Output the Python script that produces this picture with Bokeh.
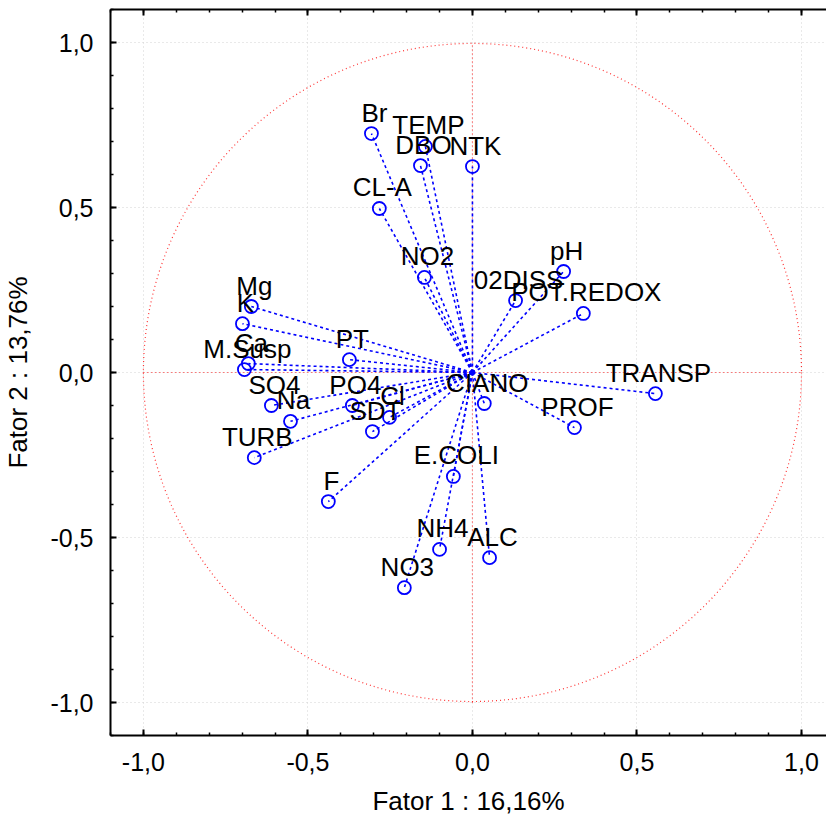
from bokeh.plotting import figure
from bokeh.models import ColumnDataSource, Range1d, LinearAxis, FixedTicker
from bokeh.core.properties import value
from bokeh.embed import file_html
from bokeh.resources import INLINE

# Factor loadings of each variable on the first two factors
variables = ["Br", "TEMP", "DBO", "NTK", "CL-A", "NO2", "pH", "02DISS", "POT.REDOX",
             "Mg", "K", "PT", "Ca", "M.Susp", "SO4", "Na", "PO4", "Cl", "SDT",
             "CIANO", "TRANSP", "PROF", "TURB", "E.COLI", "F", "NH4", "ALC", "NO3"]
fator1 = [-0.307, -0.143, -0.158, 0.000, -0.283, -0.146, 0.277, 0.131, 0.337,
          -0.672, -0.699, -0.374, -0.681, -0.693, -0.611, -0.553, -0.365, -0.252, -0.304,
          0.036, 0.556, 0.310, -0.663, -0.058, -0.438, -0.100, 0.052, -0.207]
fator2 = [0.724, 0.685, 0.627, 0.624, 0.497, 0.288, 0.306, 0.218, 0.179,
          0.200, 0.148, 0.039, 0.027, 0.009, -0.100, -0.148, -0.100, -0.136, -0.179,
          -0.094, -0.064, -0.167, -0.258, -0.315, -0.391, -0.536, -0.561, -0.652]

tick_values = [-1.0, -0.5, 0.0, 0.5, 1.0]
tick_labels = ["-1,0", "-0,5", "0,0", "0,5", "1,0"]
minor_values = [round(-1.1 + 0.1 * i, 1) for i in range(23)]
circle_radius = 1.0

FONT = "Liberation Sans"

src = ColumnDataSource(dict(var=variables, x=fator1, y=fator2,
                            x0=[0.0] * len(variables), y0=[0.0] * len(variables)))

p = figure(width=826, height=822, output_backend="svg", toolbar_location=None,
           x_range=Range1d(-1.1, 1.076), y_range=Range1d(-1.1, 1.1),
           min_border_left=110, min_border_right=0, min_border_top=9, min_border_bottom=87,
           x_axis_label="Fator 1 : 16,16%", y_axis_label="Fator 2 : 13,76%")
p.outline_line_color = None
p.background_fill_color = "white"
p.border_fill_color = "white"

ticker = FixedTicker(ticks=tick_values, minor_ticks=minor_values)
overrides = {v: l for v, l in zip(tick_values, tick_labels)}

for ax in (p.xaxis[0], p.yaxis[0]):
    ax.ticker = ticker
    ax.major_label_overrides = overrides
    ax.major_label_text_font = FONT
    ax.major_label_text_font_size = "25px"
    ax.major_label_text_color = "black"
    ax.axis_label_text_font = FONT
    ax.axis_label_text_font_size = "26px"
    ax.axis_label_text_font_style = "normal"
    ax.axis_label_text_color = "black"
    ax.axis_line_width = 2
    ax.axis_line_color = "black"
    ax.major_tick_in = 6
    ax.major_tick_out = 0
    ax.minor_tick_in = 3
    ax.minor_tick_out = 0
    ax.major_tick_line_width = 2
    ax.minor_tick_line_width = 1.5

p.xaxis[0].major_label_standoff = 17
p.xaxis[0].axis_label_standoff = 12
p.yaxis[0].major_label_standoff = 17
p.yaxis[0].axis_label_standoff = 14

# Frame edge along the top with mirrored inward ticks (no labels)
top = LinearAxis(ticker=ticker, major_label_overrides={v: "" for v in tick_values},
                 major_label_standoff=0,
                 axis_line_width=2, major_tick_in=6, major_tick_out=0,
                 minor_tick_in=3, minor_tick_out=0, major_tick_line_width=2,
                 minor_tick_line_width=1.5)
p.add_layout(top, "above")

for g in (p.xgrid[0], p.ygrid[0]):
    g.ticker = ticker
    g.grid_line_color = "#d2d2d2"
    g.grid_line_dash = "1 3"
    g.grid_line_width = 1

# Unit circle and reference axes through the origin
p.circle(x=[0.0], y=[0.0], radius=circle_radius, fill_color=None,
         line_color="#ff0000", line_dash="1 3", line_width=1.2, line_alpha=0.8)
p.segment(x0=[-circle_radius, 0.0], y0=[0.0, -circle_radius],
          x1=[circle_radius, 0.0], y1=[0.0, circle_radius],
          line_color="#ff0000", line_dash="1 3", line_width=1.2, line_alpha=0.8)

# Loading vectors from the origin
p.segment(x0="x0", y0="y0", x1="x", y1="y", source=src,
          line_color="#0000ff", line_dash="3 3", line_width=1.6)
p.scatter(x="x", y="y", source=src, size=13, marker="circle",
          fill_color=None, line_color="#0000ff", line_width=1.8)

p.text(x="x", y="y", text="var", source=src, x_offset=3, y_offset=-21,
       text_align="center", text_baseline="middle",
       text_font=value(FONT), text_font_size="26px", text_color="black")

open("out.html", "w").write(file_html(p, INLINE))
